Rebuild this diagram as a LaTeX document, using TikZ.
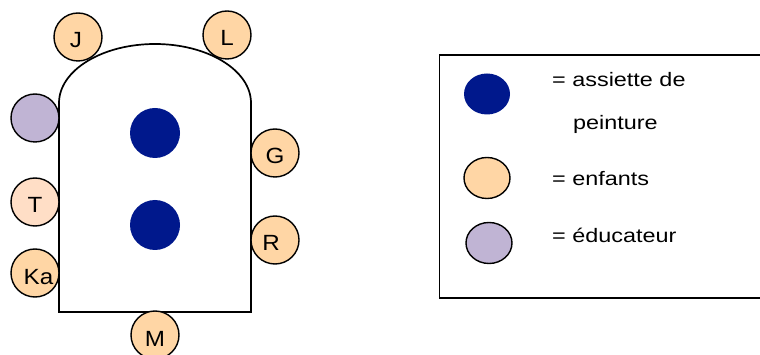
\documentclass[tikz,border=0pt]{standalone}
\usepackage{fontspec}
\usetikzlibrary{shapes.geometric}
\newfontfamily\seatfont[FakeStretch=1.1]{Liberation Sans}
\newfontfamily\keyfont[FakeStretch=1.2]{Liberation Sans}
\definecolor{peach}{RGB}{255,214,165}
\definecolor{paleach}{RGB}{255,222,198}
\definecolor{lilac}{RGB}{192,180,212}
\definecolor{navy}{RGB}{0,24,140}
\tikzset{
  seat/.style={circle, draw=black, line width=1.4pt, fill=peach, minimum size=48pt,
    inner sep=0pt, font=\seatfont\fontsize{22}{22}\selectfont,
    text height=22pt, text depth=0pt},
  adult/.style={seat, fill=lilac},
  plate/.style={circle, fill=navy, minimum size=50pt, inner sep=0pt},
  keyshape/.style={ellipse, minimum width=46pt, minimum height=41pt, inner sep=0pt},
  keytext/.style={anchor=base west, inner sep=0pt, font=\keyfont\fontsize{19.5}{20}\selectfont},
  outline/.style={line width=1.7pt, line join=miter}
}
\begin{document}
\begin{tikzpicture}[x=1pt, y=-1pt]
\useasboundingbox (0,0) rectangle (760,355);

% table with a rounded head
\draw[outline] (59,312) -- (59,103)
  arc[start angle=180, end angle=0, x radius=96pt, y radius=59pt]
  -- (251,312) -- cycle;

% paint plates
\node[plate] (p1) at (155,133) {};
\node[plate] (p2) at (155,225) {};

% seats around the table
\node[seat] (J) at (78,37) {J\hspace*{4pt}};
\node[seat] (L) at (227,35) {L};
\node[adult] (E) at (35,118) {};
\node[seat] (G) at (275,153) {G};
\node[seat, fill=paleach] (T) at (35,202) {T};
\node[seat] (R) at (275,240) {R\hspace*{8pt}};
\node[seat] (Ka) at (35,273) {\hspace*{7pt}Ka};
\node[seat] (M) at (155,335) {M};

% key
\draw[outline] (760,55) -- (439.5,55) -- (439.5,298) -- (760,298);
\node[keyshape, fill=navy] (k1) at (487,94) {};
\node[keyshape, fill=peach, draw=black, line width=1.4pt] (k2) at (487,178) {};
\node[keyshape, fill=lilac, draw=black, line width=1.4pt] (k3) at (489,243) {};
\node[keytext] (t1) at (552,87) {= assiette de};
\node[keytext] (t1b) at (573,130) {peinture};
\node[keytext] (t2) at (552,186) {= enfants};
\node[keytext] (t3) at (552,243) {= éducateur};
\end{tikzpicture}
\end{document}
